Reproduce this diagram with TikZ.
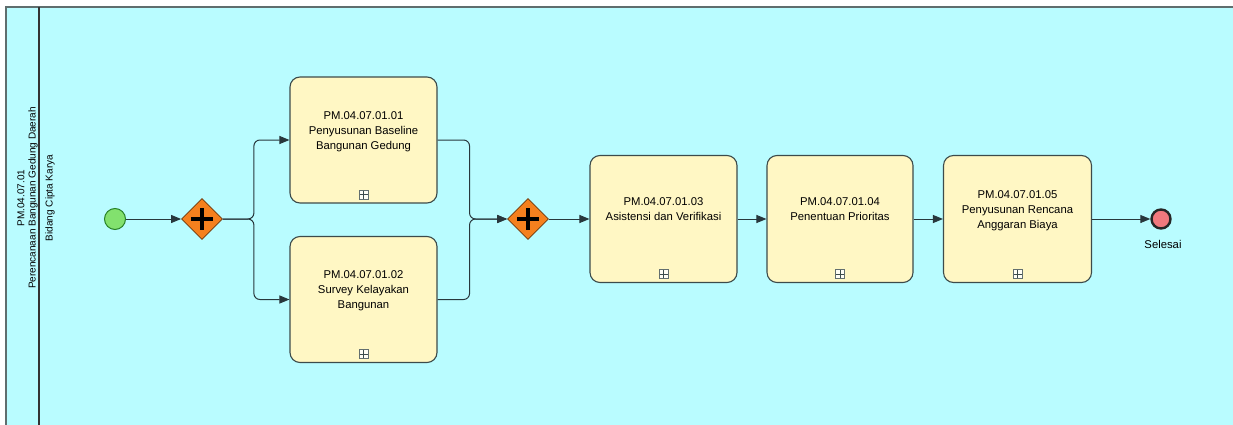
\documentclass[tikz,border=0pt]{standalone}
\usepackage{fontspec}
\setmainfont{Liberation Sans}
\usetikzlibrary{shapes.geometric,arrows.meta}
\definecolor{lanebg}{RGB}{185,252,255}
\definecolor{poolline}{RGB}{95,110,110}
\definecolor{taskfill}{RGB}{255,247,196}
\definecolor{taskline}{RGB}{60,75,75}
\definecolor{gwfill}{RGB}{245,128,30}
\definecolor{gwline}{RGB}{110,55,10}
\definecolor{startfill}{RGB}{130,225,110}
\definecolor{startline}{RGB}{40,130,40}
\definecolor{endfill}{RGB}{240,120,125}
\definecolor{flowline}{RGB}{40,55,60}
\tikzset{
  taskbox/.style={draw=taskline, fill=taskfill, line width=1.1pt, rounded corners=10pt,
    minimum width=147pt, minimum height=127pt, inner sep=0pt, align=center,
    font=\fontsize{11.3}{15}\selectfont},
  plusmark/.style={draw=taskline!80, fill=white!85!taskfill, line width=0.6pt, minimum size=9pt, inner sep=0pt,
    path picture={\draw[line width=0.8pt, taskline] (path picture bounding box.north) -- (path picture bounding box.south)
      (path picture bounding box.west) -- (path picture bounding box.east);}},
  gateway/.style={diamond, draw=gwline, fill=gwfill, line width=0.8pt, minimum width=41pt, minimum height=41pt,
    inner sep=0pt, aspect=1,
    path picture={\draw[line width=4.5pt, black] ([yshift=11pt]path picture bounding box.center) -- ([yshift=-11pt]path picture bounding box.center)
      ([xshift=-11pt]path picture bounding box.center) -- ([xshift=11pt]path picture bounding box.center);}},
  startev/.style={circle, draw=startline, fill=startfill, line width=1pt, minimum size=21pt, inner sep=0pt},
  endev/.style={circle, draw=black!85, fill=endfill, line width=2.4pt, minimum size=19pt, inner sep=0pt},
  flow/.style={draw=flowline, line width=1pt, -{Triangle[length=10pt,width=8pt]}, rounded corners=6pt},
  lanetext/.style={rotate=90, font=\fontsize{10}{12}\selectfont, inner sep=0pt},
}
\begin{document}
\begin{tikzpicture}[x=1pt,y=-1pt]
\useasboundingbox (0,0) rectangle (1233,425);
% pool / lane
\fill[lanebg] (6,7) rectangle (1240,432);
\draw[poolline, line width=1.6pt] (6,432) -- (6,7) -- (1240,7);
\draw[black!80, line width=1.4pt] (39,7) -- (39,432);
\node[lanetext] (l1) at (21,198) {PM.04.07.01};
\node[lanetext] (l2) at (33,198) {Perencanaan Bangunan Gedung Daerah};
\node[lanetext] (l3) at (50,198) {Bidang Cipta Karya};
% events and gateways
\node[startev] (s) at (115,219) {};
\node[gateway] (g1) at (202,219) {};
\node[gateway] (g2) at (528,219) {};
\node[endev] (e) at (1161,219) {};
\node[font=\fontsize{11.3}{14}\selectfont] (el) at (1163,244) {Selesai};
% tasks
\node[taskbox, minimum height=126pt] (t1) at (363.5,140) {PM.04.07.01.01\\Penyusunan Baseline\\Bangunan Gedung\\[4pt]};
\node[taskbox, minimum height=126pt] (t2) at (363.5,299.5) {PM.04.07.01.02\\Survey Kelayakan\\Bangunan\\[4pt]};
\node[taskbox] (t3) at (663.5,219) {PM.04.07.01.03\\Asistensi dan Verifikasi\\[4pt]};
\node[taskbox, minimum width=146pt] (t4) at (840,219) {PM.04.07.01.04\\Penentuan Prioritas\\[4pt]};
\node[taskbox, minimum width=148pt] (t5) at (1017.5,219) {PM.04.07.01.05\\Penyusunan Rencana\\Anggaran Biaya\\[4pt]};
% markers
\foreach \t in {t1,t2,t3,t4,t5}{
  \node[plusmark] (m\t) at ([yshift=9pt]\t.south) {};
}
% flows
\draw[flow] (s) -- (g1);
\draw[flow] (g1.east) -- ++(31,0) |- (t1.west);
\draw[flow] (g1.east) -- ++(31,0) |- (t2.west);
\draw[flow] (t1.east) -- ++(32,0) |- (g2.west);
\draw[flow] (t2.east) -- ++(32,0) |- (g2.west);
\draw[flow] (g2) -- (t3);
\draw[flow] (t3) -- (t4);
\draw[flow] (t4) -- (t5);
\draw[flow] (t5) -- (e);
\end{tikzpicture}
\end{document}
